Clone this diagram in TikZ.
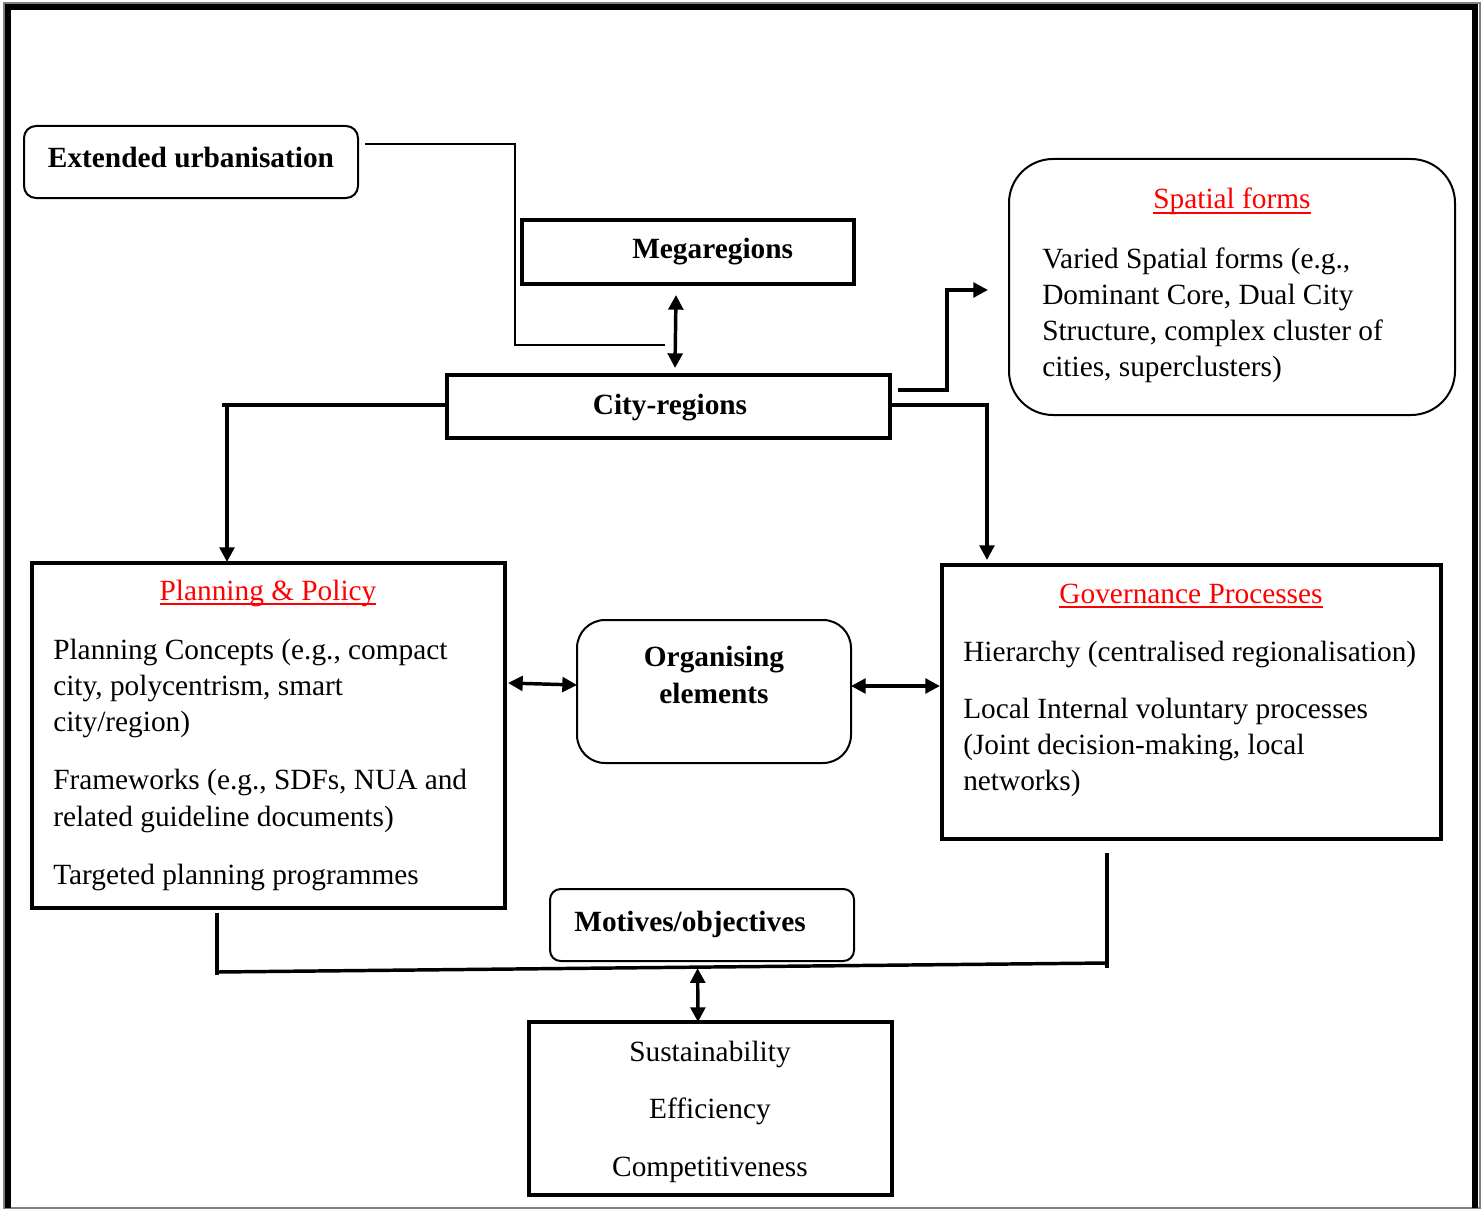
\documentclass[tikz,border=0pt]{standalone}
\usepackage{fontspec}
\setmainfont{Liberation Serif}
\usetikzlibrary{arrows.meta,calc,fit}
\newcommand\redul[1]{{\color{red}\setbox0=\hbox{#1}\rlap{\rule[-3.6pt]{\wd0}{1.1pt}}\box0}}
\tikzset{
  thickbox/.style={draw, line width=3pt, inner sep=0pt, outer sep=0pt, rectangle},
  thinround/.style={draw, line width=1.5pt, inner sep=0pt, outer sep=0pt, rectangle, rounded corners=#1},
  conn/.style={line width=2.6pt},
  thinconn/.style={line width=1.7pt},
  arr/.style={line width=2.6pt, -{Triangle[length=11pt,width=11pt]}},
  darr/.style={line width=2.6pt, {Triangle[length=11pt,width=11pt]}-{Triangle[length=11pt,width=11pt]}},
  txt/.style={anchor=base west, inner sep=0pt, font=\fontsize{22pt}{27pt}\selectfont},
  ctxt/.style={anchor=base, inner sep=0pt, font=\fontsize{22pt}{27pt}\selectfont},
  btxt/.style={anchor=base, inner sep=0pt, font=\fontsize{22pt}{27pt}\selectfont\bfseries},
}
\begin{document}
\begin{tikzpicture}[x=0.75pt, y=-0.75pt]
\useasboundingbox (0,0) rectangle (1484,1209);
\fill[white] (0,0) rectangle (1484,1209);
% frame
\draw[gray, line width=1.2pt] (4,3) rectangle (1480,1208);
\draw[line width=4.5pt, line join=miter] (8,1208) -- (8,7) -- (1475,7) -- (1475,1208);

% boxes
\node[thinround=9pt, fit={(24,126) (358,198)}] (ext) {};
\node[thickbox, fit={(521.5,220) (853.5,283.5)}] (mega) {};
\node[thickbox, fit={(447,375) (890,438)}] (city) {};
\node[thinround=33pt, fit={(1009,159) (1455,415)}] (spatial) {};
\node[thickbox, fit={(32,563) (505,908)}] (plan) {};
\node[thinround=21pt, fit={(577,620) (851,763)}] (org) {};
\node[thickbox, fit={(942,565) (1441,839)}] (gov) {};
\node[thinround=8pt, fit={(550,889) (854,961)}] (mot) {};
\node[thickbox, fit={(529,1022) (892,1195)}] (goal) {};

% texts
\node[btxt] (t-ext) at (191,168) {Extended urbanisation};
\node[txt, font=\fontsize{22pt}{27pt}\selectfont\bfseries] (t-mega) at (632,258) {Megaregions};
\node[btxt] (t-city) at (670,414) {City-regions};

\node[ctxt] (t-sp) at (1232,209) {\redul{Spatial forms}};
\node[txt] (t-sp1) at (1042,268) {Varied Spatial forms (e.g.,};
\node[txt] (t-sp2) at (1042,304) {Dominant Core, Dual City};
\node[txt] (t-sp3) at (1042,340) {Structure, complex cluster of};
\node[txt] (t-sp4) at (1042,376) {cities, superclusters)};

\node[ctxt] (t-pp) at (268,600) {\redul{Planning \& Policy}};
\node[txt] (t-pp1) at (53,659) {Planning Concepts (e.g., compact};
\node[txt] (t-pp2) at (53,695) {city, polycentrism, smart};
\node[txt] (t-pp3) at (53,731) {city/region)};
\node[txt] (t-pp4) at (53,789) {Frameworks (e.g., SDFs, NUA and};
\node[txt] (t-pp5) at (53,826) {related guideline documents)};
\node[txt] (t-pp6) at (53,884) {Targeted planning programmes};

\node[btxt] (t-org1) at (714,666) {Organising};
\node[btxt] (t-org2) at (714,703) {elements};

\node[ctxt] (t-gov) at (1191,603) {\redul{Governance Processes}};
\node[txt] (t-gov1) at (963,661) {Hierarchy (centralised regionalisation)};
\node[txt] (t-gov2) at (963,718) {Local Internal voluntary processes};
\node[txt] (t-gov3) at (963,754) {(Joint decision-making, local};
\node[txt] (t-gov4) at (963,790) {networks)};

\node[btxt] (t-mot) at (690,931) {Motives/objectives};

\node[ctxt] (t-g1) at (710,1061) {Sustainability};
\node[ctxt] (t-g2) at (710,1118) {Efficiency};
\node[ctxt] (t-g3) at (710,1176) {Competitiveness};

% connectors
\coordinate (junc) at ($(mega.south)+(-22.5,61.5)$);
\draw[thinconn] ($(ext.east)+(7,-18)$) -| ($(junc)+(-150,0)$) -- (junc);
\draw[darr] ($(mega.south)+(-11.5,11.5)$) -- ($(city.north)+(6.5,-7)$);

\draw[arr] ($(city.east)+(8,-16.5)$) -- ++(49,0) |- ($(spatial.west)+(-21,3)$);
\draw[arr] ($(city.east)+(0,-1.5)$) -| ($(gov.north west)+(45,-5)$);
\draw[conn] ($(city.west)+(0,-1.5)$) -- ++(-225,0);
\draw[arr] ($(city.west)+(-220,-1.5)$) -- ($(plan.north west)+(195,-1)$);

\draw[darr] ($(plan.east)+(3,-52.5)$) -- ($(org.west)+(0,-6.5)$);
\draw[darr] ($(org.east)+(0,-5.5)$) -- ($(gov.west)+(-2,-16)$);

\coordinate (barL) at ($(plan.south)+(-51.5,64)$);
\coordinate (barR) at ($(gov.south)+(-84.5,124)$);
\coordinate (barM) at ($(barL)!0.54!(barR)$);
\draw[conn] ($(plan.south)+(-51.5,5)$) -- ++(0,62);
\draw[conn] ($(gov.south)+(-84.5,14)$) -- ++(0,115);
\draw[conn] (barL) -- (barR);
\draw[darr] ($(barM)+(0,1)$) -- ($(goal.north)+(-12.5,0)$);
\end{tikzpicture}
\end{document}
